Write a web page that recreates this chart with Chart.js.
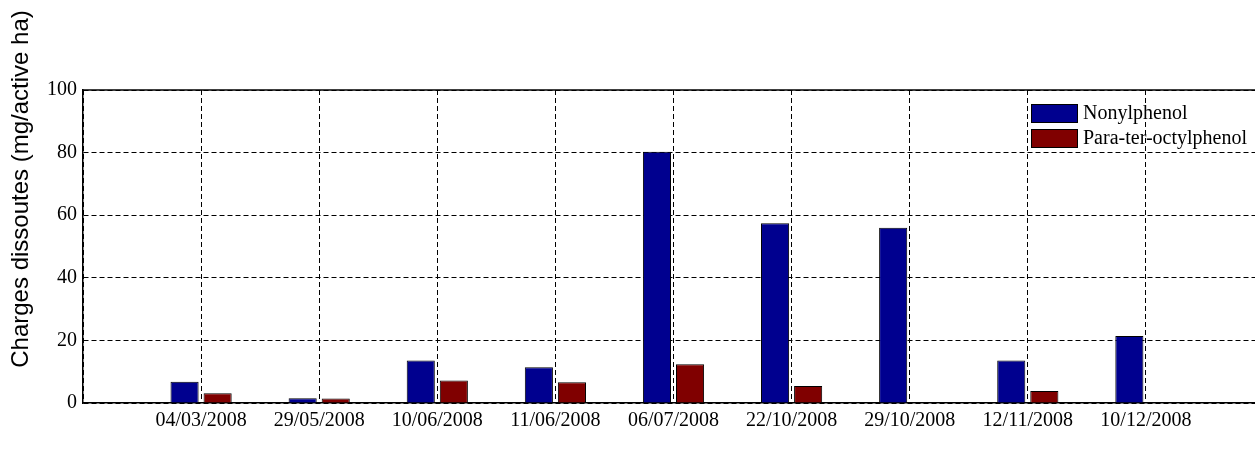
<!DOCTYPE html>
<html>
<head>
<meta charset="utf-8">
<script src="https://cdn.jsdelivr.net/npm/chart.js@4/dist/chart.umd.min.js"></script>
<style>
  html, body { margin: 0; padding: 0; background: #fff; overflow: hidden; }
  canvas { display: block; }
</style>
</head>
<body>
<canvas id="chart" width="1270" height="449"></canvas>
<script>
// sampling dates
var dates = ['04/03/2008', '29/05/2008', '10/06/2008', '11/06/2008', '06/07/2008',
             '22/10/2008', '29/10/2008', '12/11/2008', '10/12/2008'];
// dissolved loads, mg/active ha
var nonylphenol = [6.8, 1.5, 13.6, 11.4, 80.3, 57.4, 56.0, 13.6, 21.4];
var octylphenol = [3.1, 1.4, 7.2, 6.6, 12.4, 5.4, 0.2, 3.8, 0.2];
var seriesNames = ['Nonylphenol', 'Para-ter-octylphenol'];
var yTicks = [0, 20, 40, 60, 80, 100];
var yTitle = 'Charges dissoutes (mg/active ha)';

// empty slot on each side so the groups sit on the grid lines
var labels = [''].concat(dates, ['']);
function pad(arr) { return [null].concat(arr, [null]); }

var serif = '"Liberation Serif", "Times New Roman", serif';

var extras = {
  id: 'extras',
  afterDraw: function(chart) {
    var ctx = chart.ctx, a = chart.chartArea;
    ctx.save();
    // top frame line
    ctx.strokeStyle = '#000';
    ctx.lineWidth = 1.5;
    ctx.beginPath();
    ctx.moveTo(a.left, a.top);
    ctx.lineTo(a.right, a.top);
    ctx.stroke();

    // legend
    ctx.font = '20px ' + serif;
    ctx.textAlign = 'left';
    ctx.textBaseline = 'middle';
    chart.data.datasets.forEach(function(ds, i) {
      var y = 104 + i * 25;
      ctx.fillStyle = ds.backgroundColor;
      ctx.fillRect(1031, y, 47, 19);
      ctx.lineWidth = 1;
      ctx.strokeStyle = '#000';
      ctx.strokeRect(1031.5, y + 0.5, 46, 18);
      ctx.fillStyle = '#000';
      ctx.fillText(ds.label, 1083, y + 10);
    });

    // y title
    ctx.translate(21, 189);
    ctx.rotate(-Math.PI / 2);
    ctx.font = '24px "Liberation Sans", Arial, sans-serif';
    ctx.textAlign = 'center';
    ctx.fillText(yTitle, 0, 0);
    ctx.restore();
  }
};

var ctx = document.getElementById('chart').getContext('2d');
var chart = new Chart(ctx, {
  type: 'bar',
  data: {
    labels: labels,
    datasets: [{
      label: seriesNames[0],
      data: pad(nonylphenol),
      backgroundColor: '#00008F',
      borderColor: '#000',
      borderWidth: 1
    }, {
      label: seriesNames[1],
      data: pad(octylphenol),
      backgroundColor: '#800000',
      borderColor: '#000',
      borderWidth: 1
    }]
  },
  options: {
    responsive: false,
    animation: false,
    categoryPercentage: 0.56,
    barPercentage: 0.85,
    layout: { padding: { top: 90, right: 2, left: 0, bottom: 0 } },
    plugins: {
      legend: { display: false },
      tooltip: { enabled: false }
    },
    scales: {
      x: {
        offset: false,
        grid: { color: '#000', lineWidth: 1, drawTicks: false, offset: false },
        border: { color: '#000', width: 1.5, dash: [5, 3] },
        ticks: {
          autoSkip: false, maxRotation: 0, padding: 6,
          color: '#000', font: { family: serif, size: 20 }
        },
        afterFit: function(s) { s.height = 46; }
      },
      y: {
        min: 0, max: 100,
        afterBuildTicks: function(s) {
          s.ticks = yTicks.map(function(v) { return { value: v }; });
        },
        grid: { color: '#000', lineWidth: 1, drawTicks: false },
        border: { color: '#000', width: 1.5, dash: [5, 3] },
        ticks: {
          padding: 6, color: '#000', font: { family: serif, size: 20 }
        },
        afterFit: function(s) { s.width = 83; }
      }
    }
  },
  plugins: [extras]
});
</script>
</body>
</html>
